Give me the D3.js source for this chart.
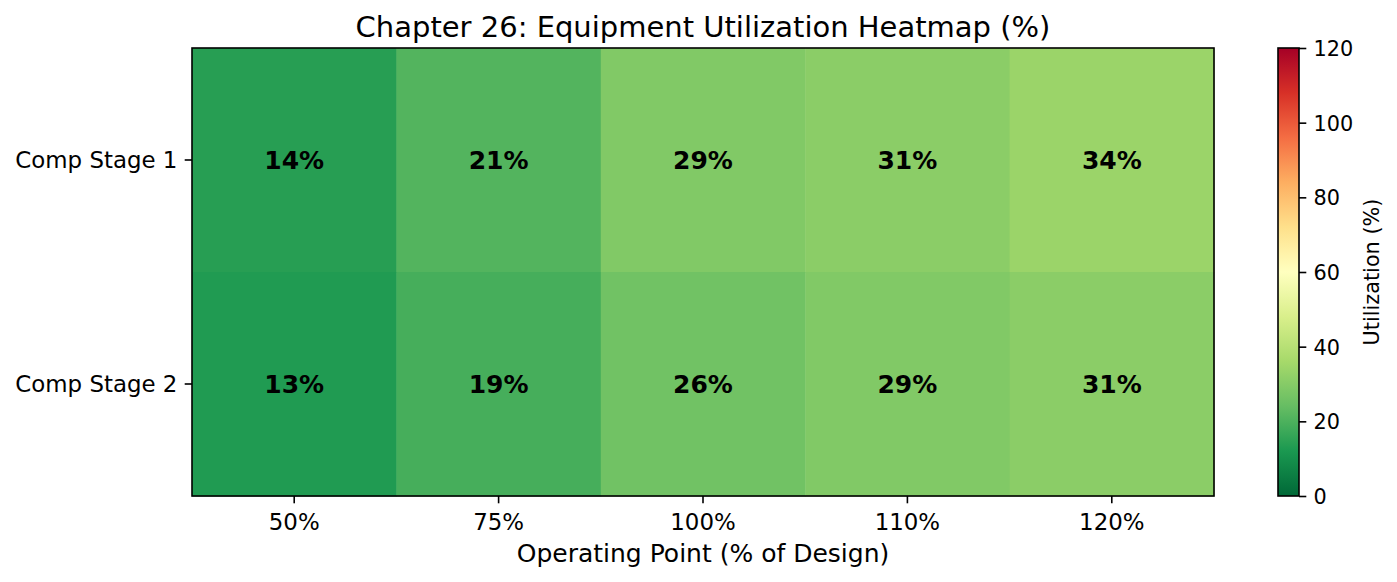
<!DOCTYPE html>
<html><head><meta charset="utf-8">
<script src="https://cdn.jsdelivr.net/npm/d3@7"></script>
<style>body{margin:0;background:#fff;} text{font-family:"DejaVu Sans",sans-serif;}</style>
</head><body><div id="chart"></div>
<script>
const stages = ["Comp Stage 1", "Comp Stage 2"];
const operatingPoints = ["50%", "75%", "100%", "110%", "120%"];
const stage1Values = [14, 21, 29, 31, 34];
const stage2Values = [13, 19, 26, 29, 31];
const colorbarTicks = [0, 20, 40, 60, 80, 100, 120];

const title = "Chapter 26: Equipment Utilization Heatmap (%)";
const xLabel = "Operating Point (% of Design)";
const cbLabel = "Utilization (%)";

const W = 1397, H = 582;
const m = {left: 192, right: 1214, top: 48, bottom: 496};
const cb = {left: 1278, right: 1299};

const svg = d3.select("#chart").append("svg").attr("width", W).attr("height", H);

// matplotlib RdYlGn_r (linear segments)
const rdylgn = ["#a50026","#d73027","#f46d43","#fdae61","#fee08b","#ffffbf","#d9ef8b","#a6d96a","#66bd63","#1a9850","#006837"];
const interp = d3.piecewise(d3.interpolateRgb, rdylgn.slice().reverse());
const color = d3.scaleSequential(interp).domain([0, 120]);

const x = d3.scaleBand().domain(operatingPoints).range([m.left, m.right]);
const y = d3.scaleBand().domain(stages).range([m.top, m.bottom]);

const rows = [stage1Values, stage2Values];
const cells = [];
stages.forEach((s, i) => operatingPoints.forEach((p, j) => cells.push({s, p, v: rows[i][j]})));

svg.selectAll("rect.cell").data(cells).enter().append("rect")
  .attr("x", d => x(d.p)).attr("y", d => y(d.s))
  .attr("width", x.bandwidth() + 0.5).attr("height", y.bandwidth() + 0.5)
  .attr("fill", d => color(d.v));

svg.selectAll("text.ann").data(cells).enter().append("text")
  .attr("x", d => x(d.p) + x.bandwidth() / 2)
  .attr("y", d => y(d.s) + y.bandwidth() / 2)
  .attr("text-anchor", "middle").attr("dominant-baseline", "central")
  .attr("font-size", 25).attr("font-weight", "bold").attr("fill", "#000")
  .text(d => d.v + "%");

// axes frame
svg.append("rect").attr("x", m.left).attr("y", m.top)
  .attr("width", m.right - m.left).attr("height", m.bottom - m.top)
  .attr("fill", "none").attr("stroke", "#000").attr("stroke-width", 1.6);

// x axis
const xAxis = svg.append("g").attr("transform", `translate(0,${m.bottom})`)
  .call(d3.axisBottom(x).tickSize(7.3).tickPadding(0));
xAxis.select(".domain").remove();
xAxis.selectAll(".tick line").attr("stroke", "#000").attr("stroke-width", 1.6);
xAxis.selectAll(".tick text").attr("font-size", 22.9).attr("fill", "#000")
  .attr("dy", null).attr("y", 34).attr("font-family", "DejaVu Sans");

// y axis
const yAxis = svg.append("g").attr("transform", `translate(${m.left},0)`)
  .call(d3.axisLeft(y).tickSize(7.3).tickPadding(7.3));
yAxis.select(".domain").remove();
yAxis.selectAll(".tick line").attr("stroke", "#000").attr("stroke-width", 1.6);
yAxis.selectAll(".tick text").attr("font-size", 22.9).attr("fill", "#000")
  .attr("dy", "0.36em").attr("font-family", "DejaVu Sans");

// title and x label
svg.append("text").attr("x", (m.left + m.right) / 2).attr("y", 36.5)
  .attr("text-anchor", "middle").attr("font-size", 29).attr("fill", "#000").text(title);
svg.append("text").attr("x", (m.left + m.right) / 2).attr("y", 562)
  .attr("text-anchor", "middle").attr("font-size", 25).attr("fill", "#000").text(xLabel);

// colorbar
const defs = svg.append("defs");
const grad = defs.append("linearGradient").attr("id", "cbgrad")
  .attr("x1", 0).attr("y1", 1).attr("x2", 0).attr("y2", 0);
d3.range(0, 1.0001, 0.05).forEach(t => {
  grad.append("stop").attr("offset", t).attr("stop-color", color(t * 120));
});
svg.append("rect").attr("x", cb.left).attr("y", m.top)
  .attr("width", cb.right - cb.left).attr("height", m.bottom - m.top)
  .attr("fill", "url(#cbgrad)");
svg.append("rect").attr("x", cb.left).attr("y", m.top)
  .attr("width", cb.right - cb.left).attr("height", m.bottom - m.top)
  .attr("fill", "none").attr("stroke", "#000").attr("stroke-width", 1.6);

const cbScale = d3.scaleLinear().domain([0, 120]).range([m.bottom, m.top]);
const cbAxis = svg.append("g").attr("transform", `translate(${cb.right},0)`)
  .call(d3.axisRight(cbScale).tickValues(colorbarTicks).tickSize(7.3).tickPadding(7.3));
cbAxis.select(".domain").remove();
cbAxis.selectAll(".tick line").attr("stroke", "#000").attr("stroke-width", 1.6);
cbAxis.selectAll(".tick text").attr("font-size", 20.8).attr("fill", "#000")
  .attr("dy", "0.36em").attr("font-family", "DejaVu Sans");

svg.append("text")
  .attr("transform", `translate(1379,${(m.top + m.bottom) / 2}) rotate(-90)`)
  .attr("text-anchor", "middle").attr("font-size", 20.8).attr("fill", "#000").text(cbLabel);
</script></body></html>
